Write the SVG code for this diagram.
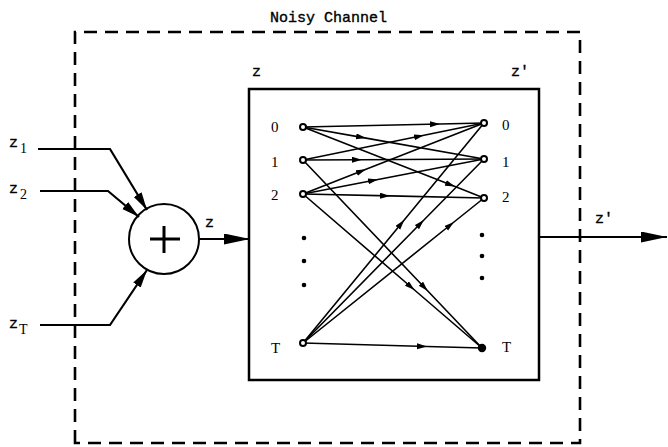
<svg xmlns="http://www.w3.org/2000/svg" width="668" height="447" viewBox="0 0 668 447">
<style>
.mono{font-family:"Liberation Mono","Courier New",monospace;font-size:15px;fill:#000;stroke:#000;stroke-width:0.35}
.ser{font-family:"Liberation Serif","Times New Roman",serif;font-size:15px;fill:#000}
.sub{font-family:"Liberation Serif","Times New Roman",serif;font-size:14px;fill:#000}
.edge{stroke:#000;stroke-width:1.6;fill:none;marker-mid:url(#ah)}
.wire{stroke:#000;stroke-width:2.2;fill:none}
.dash{stroke:#000;stroke-width:2.6;fill:none;stroke-dasharray:13 8}
.onode{fill:#fff;stroke:#000;stroke-width:2}
</style>
<defs>
<marker id="ah" markerUnits="userSpaceOnUse" markerWidth="12" markerHeight="8" refX="10" refY="3" orient="auto"><path d="M0,0 L10,3 L0,6 z" fill="#000"/></marker>
<marker id="big" markerUnits="userSpaceOnUse" markerWidth="20" markerHeight="10" refX="18" refY="4.5" orient="auto"><path d="M0,0 L18,4.5 L0,9 z" fill="#000"/></marker>
<marker id="out" markerUnits="userSpaceOnUse" markerWidth="28" markerHeight="12" refX="26" refY="5.5" orient="auto"><path d="M0,0 L26,5.5 L0,11 z" fill="#000"/></marker>
</defs>

<g id="channel">
<path class="dash" d="M75,443 L75,32 L580,32 L580,443 Z"/>
<text class="mono" x="270" y="22">Noisy Channel</text>
</g>

<g id="inputs">
<text class="mono" x="9" y="147">z</text><text class="sub" x="20" y="153">1</text>
<text class="mono" x="9" y="193">z</text><text class="sub" x="20" y="199">2</text>
<text class="mono" x="9" y="328">z</text><text class="sub" x="19" y="334">T</text>
</g>

<g id="adder">
<circle cx="164" cy="239" r="35" fill="#fff" stroke="#000" stroke-width="2"/>
<path d="M150,239 H180 M164,226 V253" stroke="#000" stroke-width="3"/>
</g>

<g id="trellis">
<rect x="249" y="89" width="290" height="291" fill="none" stroke="#000" stroke-width="2.5"/>
<text class="mono" x="252" y="76">z</text>
<text class="mono" x="511" y="76">z'</text>
<text class="ser" x="271" y="132">0</text>
<text class="ser" x="271" y="167">1</text>
<text class="ser" x="271" y="200">2</text>
<text class="ser" x="271" y="353">T</text>
<text class="ser" x="502" y="130">0</text>
<text class="ser" x="502" y="167">1</text>
<text class="ser" x="502" y="202">2</text>
<text class="ser" x="502" y="352">T</text>
<g fill="#000">
<circle cx="304" cy="238" r="2.3"/><circle cx="304" cy="261" r="2.3"/><circle cx="304" cy="285" r="2.3"/>
<circle cx="482" cy="235" r="2.3"/><circle cx="482" cy="256" r="2.3"/><circle cx="482" cy="278" r="2.3"/>
</g>
</g>

<g id="connectors">
<path class="wire" d="M38,149 H110 L147,210" marker-end="url(#big)"/>
<path class="wire" d="M40,191 H108 L139,217" marker-end="url(#big)"/>
<path class="wire" d="M40,325 H110 L147,270" marker-end="url(#big)"/>
<path class="wire" d="M199,239 H250" marker-end="url(#out)"/>
<text class="mono" x="205" y="227">z</text>
<path class="wire" d="M539,237 H667" marker-end="url(#out)"/>
<text class="mono" x="595" y="223">z'</text>
<path class="edge" d="M303,127 L440,124 L484,123"/>
<path class="edge" d="M303,127 L366,138.1 L484,159"/>
<path class="edge" d="M303,127 L455,186.6 L484,198"/>
<path class="edge" d="M303,160 L424,135.3 L484,123"/>
<path class="edge" d="M303,160 L362,159.7 L484,159"/>
<path class="edge" d="M303,160 L427.8,291 L482,348"/>
<path class="edge" d="M303,194 L366,169.3 L484,123"/>
<path class="edge" d="M303,194 L378,179.5 L484,159"/>
<path class="edge" d="M303,194 L390,195.9 L484,198"/>
<path class="edge" d="M303,194 L414.5,290 L482,348"/>
<path class="edge" d="M303,343 L404.2,220 L484,123"/>
<path class="edge" d="M303,343 L423.9,220 L484,159"/>
<path class="edge" d="M303,343 L454,222 L484,198"/>
<path class="edge" d="M303,343 L427,346.5 L482,348"/>
</g>

<g id="nodes">
<circle class="onode" cx="303" cy="127" r="3"/>
<circle class="onode" cx="303" cy="160" r="3"/>
<circle class="onode" cx="303" cy="194" r="3"/>
<circle class="onode" cx="303" cy="343" r="3"/>
<circle class="onode" cx="484" cy="123" r="3"/>
<circle class="onode" cx="484" cy="159" r="3"/>
<circle class="onode" cx="484" cy="198" r="3"/>
<circle cx="482" cy="348" r="4.2" fill="#000"/>
</g>
</svg>
